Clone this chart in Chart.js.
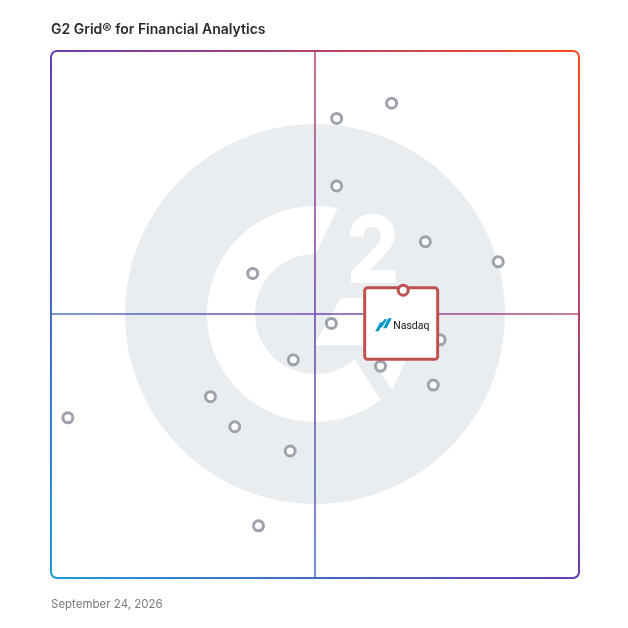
<!DOCTYPE html>
<html>
<head>
<meta charset="utf-8">
<script src="https://cdn.jsdelivr.net/npm/chart.js@4"></script>
<style>
    html, body { margin: 0; padding: 0; background: #fff; }
    #wrap { position: relative; width: 628px; height: 628px; }
    #title { position: absolute; left: 51px; top: 20px; font: 600 14px Inter, "Noto Sans", sans-serif; color: #2b2b2b; white-space: nowrap; }
    #date { position: absolute; left: 51px; top: 597px; font: 400 11.5px Inter, "Noto Sans", sans-serif; color: #7a7a7a; white-space: nowrap; }
    canvas { position: absolute; left: 0; top: 0; }
</style>
</head>
<body>
<div id="wrap">
    <canvas id="grid" width="628" height="628"></canvas>
    <div id="title">G2 Grid® for Financial Analytics</div>
    <div id="date">September 24, 2026</div>
</div>
<script>
// market presence (x) / satisfaction (y), 0-100
const productX = [64.5, 54.1, 54.1, 70.9, 84.7, 38.2, 53.1, 73.7, 62.4, 45.9, 72.4, 30.2, 3.2, 34.8, 45.3, 39.3];
const productY = [90.1, 87.2, 74.4, 63.8, 60.0, 57.8, 48.3, 45.2, 40.2, 41.4, 36.6, 34.4, 30.4, 28.7, 24.1, 9.9];
const highlightName = 'Nasdaq';
const highlightX = [66.7];
const highlightY = [54.6];
const axisMin = 0, axisMax = 100, axisMid = 50;

document.addEventListener('DOMContentLoaded', () => {
    const canvas = document.getElementById('grid');

    function frameGradient(ctx, area, alpha) {
        const g = ctx.createLinearGradient(area.left, area.bottom, area.right, area.top);
        g.addColorStop(0, `rgba(30,154,217,${alpha})`);
        g.addColorStop(0.5, `rgba(104,60,176,${alpha})`);
        g.addColorStop(1, `rgba(255,74,32,${alpha})`);
        return g;
    }

    // G2 watermark + quadrant lines behind the points
    const background = {
        id: 'background',
        beforeDatasetsDraw(chart) {
            const { ctx, chartArea: a, scales } = chart;
            const cx = scales.x.getPixelForValue(axisMid);
            const cy = scales.y.getPixelForValue(axisMid) - 0.5;
            ctx.save();
            ctx.fillStyle = '#eaedf0';
            ctx.beginPath();
            ctx.arc(cx, cy, 190, 0, Math.PI * 2);
            ctx.fill();

            // the C ring
            const rad = d => d * Math.PI / 180;
            ctx.fillStyle = '#ffffff';
            ctx.beginPath();
            ctx.arc(cx, cy, 108, rad(52.5), rad(282));
            ctx.lineTo(cx + 1, cy - 61);
            ctx.arc(cx, cy, 60, rad(271), rad(49), true);
            ctx.closePath();
            ctx.fill();

            // crossbar and its down-pointing spur
            ctx.beginPath();
            ctx.moveTo(cx + 26, cy - 16);
            ctx.lineTo(cx + 120, cy - 16);
            ctx.lineTo(cx + 77, cy + 76);
            ctx.lineTo(cx + 48, cy + 31);
            ctx.lineTo(cx - 1, cy + 31);
            ctx.closePath();
            ctx.fill();

            // the "2"
            ctx.font = '800 94px Inter, "DejaVu Sans", sans-serif';
            ctx.textAlign = 'center';
            ctx.textBaseline = 'alphabetic';
            ctx.save();
            ctx.translate(cx + 58, cy - 31);
            ctx.scale(0.88, 1);
            ctx.fillText('2', 0, 0);
            ctx.restore();

            // quadrant lines
            ctx.lineWidth = 1.6;
            ctx.strokeStyle = frameGradient(ctx, a, 0.92);
            ctx.beginPath();
            ctx.moveTo(cx, a.top);
            ctx.lineTo(cx, a.bottom);
            ctx.moveTo(a.left, cy);
            ctx.lineTo(a.right, cy);
            ctx.stroke();
            ctx.restore();
        },
        afterDatasetDraw(chart, args) {
            if (args.index !== 1) return;
            // label card for the highlighted product, under its ring
            const { ctx, scales } = chart;
            const px = scales.x.getPixelForValue(highlightX[0]);
            const py = scales.y.getPixelForValue(highlightY[0]);
            const l = px - 38.5, t = py - 2.5, w = 73, h = 71.5;
            ctx.save();
            ctx.fillStyle = '#ffffff';
            ctx.strokeStyle = '#c0504f';
            ctx.lineWidth = 3;
            ctx.beginPath();
            ctx.roundRect(l, t, w, h, 3);
            ctx.fill();
            ctx.stroke();

            // logo mark
            const lx = px - 28, ly = py + 35;
            ctx.fillStyle = '#0b97c6';
            const bar = (x0, y0, x1, y1, wd) => {
                ctx.beginPath();
                ctx.moveTo(lx + x0, ly + y0); ctx.lineTo(lx + x1, ly + y1);
                ctx.lineTo(lx + x1 + wd, ly + y1); ctx.lineTo(lx + x0 + wd, ly + y0);
                ctx.closePath(); ctx.fill();
            };
            bar(0, 6, 5, -3, 3.5);
            bar(4, 2, 9, -6, 3);
            bar(8, 3, 13, -7, 3.5);
            ctx.fillStyle = '#111111';
            ctx.font = '400 10.5px Roboto, "Noto Sans", sans-serif';
            ctx.textAlign = 'left';
            ctx.textBaseline = 'alphabetic';
            ctx.fillText(highlightName, px - 10, py + 38.5);
            ctx.restore();
        },
        afterDraw(chart) {
            const { ctx, chartArea: a } = chart;
            ctx.save();
            ctx.lineWidth = 2;
            ctx.strokeStyle = frameGradient(ctx, a, 1);
            ctx.beginPath();
            ctx.roundRect(a.left, a.top, a.right - a.left, a.bottom - a.top, 6);
            ctx.stroke();
            ctx.restore();
        }
    };

    const toPoints = (xs, ys) => xs.map((x, i) => ({ x, y: ys[i] }));

    new Chart(canvas.getContext('2d'), {
        type: 'scatter',
        data: {
            datasets: [{
                label: highlightName,
                data: toPoints(highlightX, highlightY),
                pointRadius: 5,
                borderWidth: 3,
                borderColor: '#c0504f',
                backgroundColor: '#ffffff'
            }, {
                label: 'Products',
                data: toPoints(productX, productY),
                pointRadius: 5,
                borderWidth: 3,
                borderColor: '#9ea2ad',
                backgroundColor: '#ffffff'
            }]
        },
        options: {
            responsive: false,
            animation: false,
            layout: { padding: { left: 51, right: 49, top: 51, bottom: 50 } },
            plugins: { legend: { display: false }, tooltip: { enabled: false } },
            scales: {
                x: { display: false, min: axisMin, max: axisMax },
                y: { display: false, min: axisMin, max: axisMax }
            }
        },
        plugins: [background]
    });
});
</script>
</body>
</html>
